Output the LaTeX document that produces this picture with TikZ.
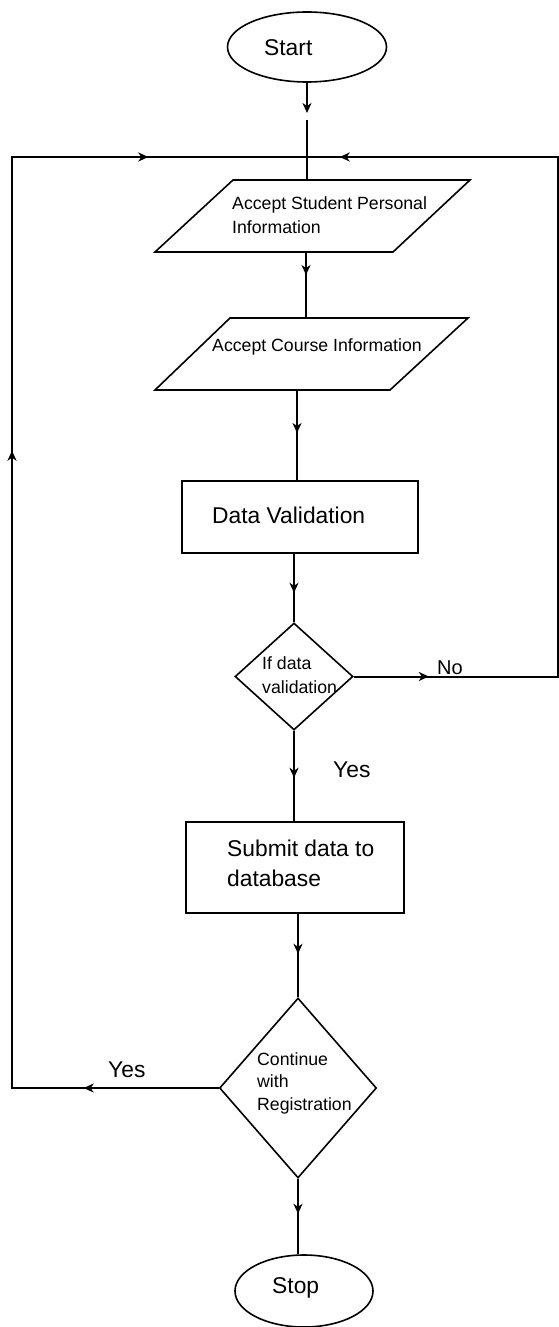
\documentclass[tikz,border=0pt]{standalone}
\usepackage{fontspec}
\setmainfont{Liberation Sans}
\usetikzlibrary{shapes.geometric,arrows.meta,decorations.markings}

\newcommand\flowtip{\arrow{Stealth[length=10pt,width=9pt,inset=3pt]}}

\tikzset{
  shape line/.style={draw=black, line width=1.6pt},
  flow/.style={draw=black, line width=2pt},
  tip end/.style={-{Stealth[length=10pt,width=9pt,inset=3pt]}},
  arrow at/.style={postaction={decorate,
      decoration={markings, mark=at position #1 with {\flowtip}}}},
  small text/.style={font=\fontsize{17.7}{24}\selectfont, inner sep=0pt,
      anchor=west, align=left},
  big text/.style={font=\fontsize{22.8}{30}\selectfont, inner sep=0pt,
      anchor=west, align=left},
  terminal/.style={ellipse, shape line, inner sep=0pt},
  process/.style={rectangle, shape line, inner sep=0pt},
  decision/.style={diamond, shape line, inner sep=0pt},
}

\begin{document}
\begin{tikzpicture}[x=1pt,y=-1pt]
\useasboundingbox (0,0) rectangle (559,1327);

% ---- terminals ----
\node[terminal, minimum width=159pt, minimum height=70pt] (start) at (307,47) {};
\node[big text] (startText) at (264,48) {Start};

\node[terminal, minimum width=138pt, minimum height=72pt] (stop) at (304,1291) {};
\node[big text] (stopText) at (272,1288) {Stop};

% ---- input parallelograms ----
\draw[shape line] (233,180) -- (470,180) -- (393,252) -- (155,252) -- cycle;
\coordinate (p1top) at (307,180);
\coordinate (p1bot) at (306,252);
\node[small text] (p1Text) at (232,215) {Accept Student Personal\\Information};

\draw[shape line] (230,318) -- (468,318) -- (390,390) -- (155,390) -- cycle;
\coordinate (p2top) at (306,318);
\coordinate (p2bot) at (297,390);
\node[small text] (p2Text) at (212,347) {Accept Course Information};

% ---- processes ----
\node[process, minimum width=236pt, minimum height=72pt] (dv) at (300,517) {};
\node[big text] (dvText) at (212,515) {Data Validation};

\node[process, minimum width=218pt, minimum height=91pt] (submit) at (295,867.5) {};
\node[big text] (submitText) at (227,863) {Submit data to\\database};

% ---- decisions ----
\node[decision, minimum width=118pt, minimum height=107pt, aspect=1.1] (d1) at (294,676.5) {};
\node[small text] (d1Text) at (262,675) {If data\\validation};

\node[decision, minimum width=157pt, minimum height=180pt, aspect=0.87] (d2) at (298,1088) {};
\node[font=\fontsize{17.7}{22.5}\selectfont, inner sep=0pt, anchor=west, align=left]
  (d2Text) at (257,1083) {Continue\\with\\Registration};

% ---- main flow ----
\coordinate (g1) at (307,113);
\coordinate (g2) at (307,120);
\draw[flow, tip end] (start.south) -- (g1);
\draw[flow] (g2) -- (p1top);
\draw[flow, arrow at=23pt] (p1bot) -- (p2top);
\draw[flow, arrow at=43pt] (p2bot) -- (dv.north -| p2bot);
\draw[flow, arrow at=39pt] (d1.north |- dv.south) -- (d1.north);
\draw[flow, arrow at=47pt] (d1.south) -- (submit.north -| d1.south);
\draw[flow, arrow at=40pt] (d2.north |- submit.south) -- (d2.north);
\draw[flow, arrow at=35pt] (d2.south) -- (stop.north -| d2.south);

% ---- loops back to the first input ----
\coordinate (join) at (307,157);
\coordinate (rtop) at (558,157);
\coordinate (ltop) at (12,157);

\draw[flow, arrow at=75pt, arrow at=942pt]
  (d1.east) -- (d1.east -| rtop) -- (rtop) -- (join);
\draw[flow, arrow at=135pt, arrow at=844pt, arrow at=1274pt]
  (d2.west) -- (d2.west -| ltop) -- (ltop) -- (join);

% ---- branch labels ----
\node[font=\fontsize{20}{24}\selectfont, inner sep=0pt, anchor=west] (noLabel) at (437,668) {No};
\node[big text] (yesDown) at (333,770) {Yes};
\node[big text] (yesLeft) at (108,1070) {Yes};
\end{tikzpicture}
\end{document}
